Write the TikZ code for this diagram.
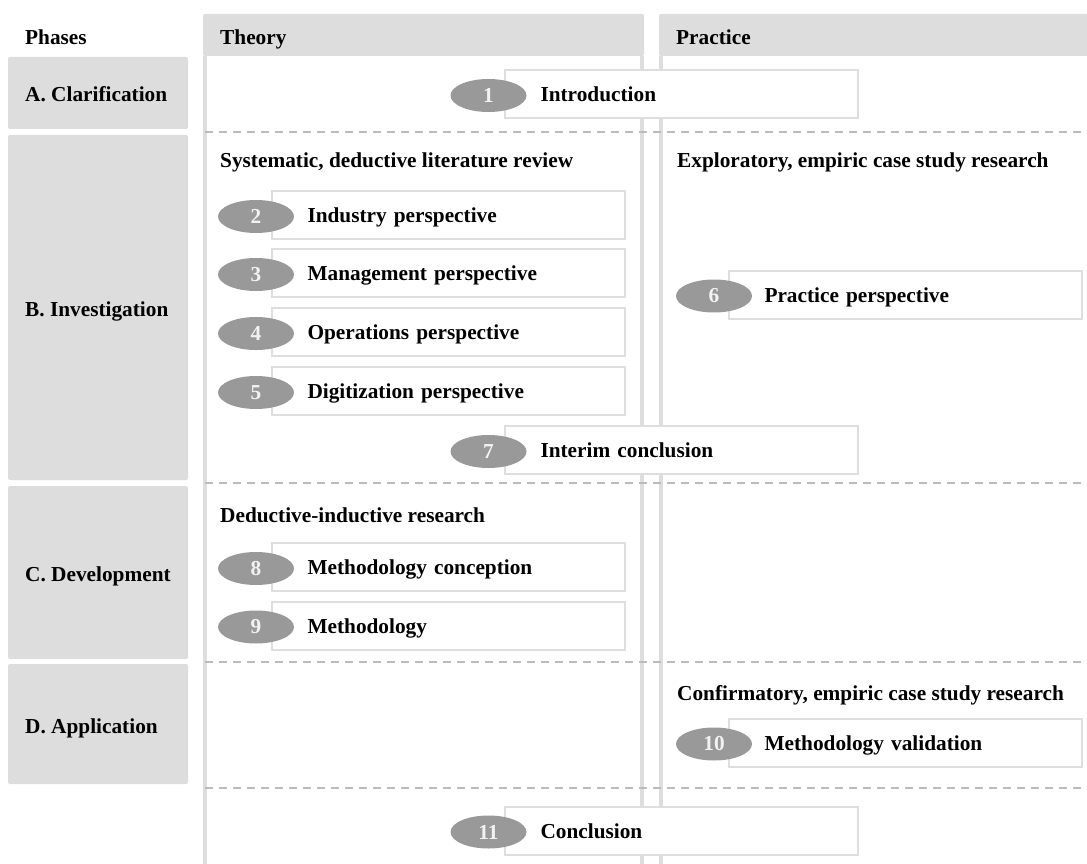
\documentclass[tikz,border=0pt]{standalone}
\usepackage{fontspec}
\setmainfont{Liberation Serif}
\usetikzlibrary{shapes.geometric}

\definecolor{panel}{HTML}{DDDDDD}
\definecolor{framegray}{HTML}{DEDEDE}
\definecolor{sepgray}{HTML}{BBBBBB}
\definecolor{dotgray}{HTML}{999999}
\definecolor{dotnum}{HTML}{F2F2F2}

\tikzset{
  txt/.style={font=\fontsize{21.3}{25}\selectfont\bfseries, inner sep=0pt, anchor=base west},
  panelfill/.style={fill=panel, rounded corners=2pt},
  colline/.style={draw=panel, line width=4pt},
  sepline/.style={draw=sepgray, line width=1.5pt, dash pattern=on 8pt off 6pt},
  stepbox/.style={rectangle, draw=framegray, line width=2pt, fill=white, outer sep=0pt,
    anchor=west, text width=282pt, inner xsep=35.5pt, inner ysep=0pt,
    minimum height=48pt, text height=15.4pt, text depth=0pt, align=left,
    font=\fontsize{21.3}{25}\selectfont\bfseries},
  numdot/.style={ellipse, fill=dotgray, inner sep=0pt, minimum width=76pt, minimum height=33pt,
    text=dotnum, font=\fontsize{21.3}{25}\selectfont\bfseries}
}

\begin{document}
\begin{tikzpicture}[x=1pt, y=-1pt]
\useasboundingbox (0,0) rectangle (1087,864);

% phase panels
\fill[panelfill] (8,57) rectangle (188,129);
\fill[panelfill] (8,135) rectangle (188,480);
\fill[panelfill] (8,486) rectangle (188,659);
\fill[panelfill] (8,664) rectangle (188,784);

% column headers
\fill[panelfill] (203,14) rectangle (644,56);
\fill[panelfill] (659,14) rectangle (1092,56);

% column borders
\draw[colline] (205,56) -- (205,864);
\draw[colline] (642,56) -- (642,864);
\draw[colline] (661,56) -- (661,864);

% phase separators
\draw[sepline] (205,132) -- (1087,132);
\draw[sepline] (205,483) -- (1087,483);
\draw[sepline] (205,662) -- (1087,662);
\draw[sepline] (205,788) -- (1087,788);

% headings
\node[txt] (hPhases) at (25,45) {Phases};
\node[txt] (hTheory) at (220,45) {Theory};
\node[txt] (hPractice) at (676,45) {Practice};

% phase labels
\node[txt] (pA) at (25,102) {A. Clarification};
\node[txt] (pB) at (25,316.5) {B. Investigation};
\node[txt] (pC) at (25,581.5) {C. Development};
\node[txt] (pD) at (25,733.5) {D. Application};

% research approach labels
\node[txt] (rTheoryB) at (220,167.5) {Systematic, deductive literature review};
\node[txt] (rPracticeB) at (677,167.5) {Exploratory, empiric case study research};
\node[txt] (rTheoryC) at (220,522.5) {Deductive-inductive research};
\node[txt] (rPracticeD) at (677,700) {Confirmatory, empiric case study research};

% chapter boxes
\node[stepbox] (b1) at (505,94) {Introduction};
\node[stepbox] (b2) at (272,215) {Industry perspective};
\node[stepbox] (b3) at (272,273) {Management perspective};
\node[stepbox] (b4) at (272,332) {Operations perspective};
\node[stepbox] (b5) at (272,391) {Digitization perspective};
\node[stepbox] (b6) at (729,294.5) {Practice perspective};
\node[stepbox] (b7) at (505,450) {Interim conclusion};
\node[stepbox] (b8) at (272,567) {Methodology conception};
\node[stepbox] (b9) at (272,625.5) {Methodology};
\node[stepbox] (b10) at (729,742.5) {Methodology validation};
\node[stepbox] (b11) at (505,830.5) {Conclusion};

% chapter numbers
\node[numdot] (n1) at (488.5,95.5) {1};
\node[numdot] (n2) at (256,216.5) {2};
\node[numdot] (n3) at (256,274.5) {3};
\node[numdot] (n4) at (256,333.5) {4};
\node[numdot] (n5) at (256,392.5) {5};
\node[numdot] (n6) at (714,296) {6};
\node[numdot] (n7) at (488.5,451.5) {7};
\node[numdot] (n8) at (256,568.5) {8};
\node[numdot] (n9) at (256,627) {9};
\node[numdot] (n10) at (714,744) {10};
\node[numdot] (n11) at (488.5,832) {11};
\end{tikzpicture}
\end{document}
